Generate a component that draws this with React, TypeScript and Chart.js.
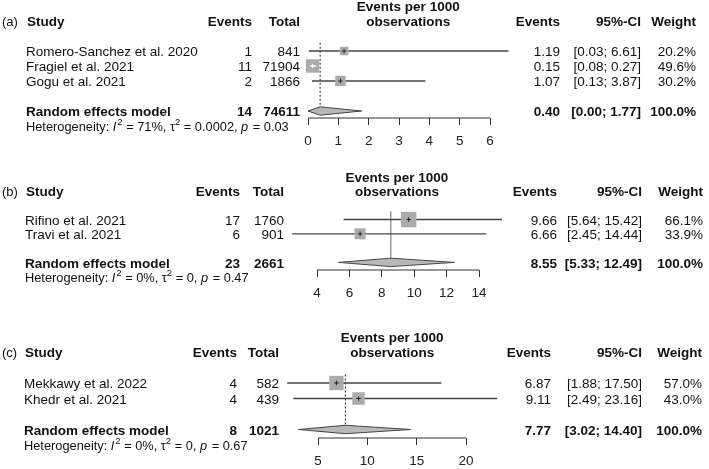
import React, { useEffect, useRef } from 'react';
import { Chart, registerables } from 'chart.js';

Chart.register(...registerables);

const FONT = '"Liberation Sans", Arial, Helvetica, sans-serif';

// ---------- Panel (a) ----------
const studiesA = ['Romero-Sanchez et al. 2020', 'Fragiel et al. 2021', 'Gogu et al. 2021'];
const eventsA = [1, 11, 2];
const totalsA = [841, 71904, 1866];
const ratesA = [1.19, 0.15, 1.07];
const lowersA = [0.03, 0.08, 0.13];
const uppersA = [6.61, 0.27, 3.87];
const weightsA = [20.2, 49.6, 30.2];
const pooledA = [14, 74611, 0.4, 0.0, 1.77];
const hetA = ['71%', '0.0002', '0.03'];
const ticksA = [0, 1, 2, 3, 4, 5, 6];

// ---------- Panel (b) ----------
const studiesB = ['Rifino et al. 2021', 'Travi et al. 2021'];
const eventsB = [17, 6];
const totalsB = [1760, 901];
const ratesB = [9.66, 6.66];
const lowersB = [5.64, 2.45];
const uppersB = [15.42, 14.44];
const weightsB = [66.1, 33.9];
const pooledB = [23, 2661, 8.55, 5.33, 12.49];
const hetB = ['0%', '0', '0.47'];
const ticksB = [4, 6, 8, 10, 12, 14];

// ---------- Panel (c) ----------
const studiesC = ['Mekkawy et al. 2022', 'Khedr et al. 2021'];
const eventsC = [4, 4];
const totalsC = [582, 439];
const ratesC = [6.87, 9.11];
const lowersC = [1.88, 2.49];
const uppersC = [17.5, 23.16];
const weightsC = [57.0, 43.0];
const pooledC = [8, 1021, 7.77, 3.02, 14.4];
const hetC = ['0%', '0', '0.67'];
const ticksC = [5, 10, 15, 20];

type Layout = {
  top: number; height: number; tick0Px: number; tickNPx: number;
  rowStart: number; rowGap: number; axisY: number; nameX: number;
  evRight: number; totRight: number; rEvRight: number; ciRight: number; wRight: number;
  refDash: number[]; refColor: string;
};

type Panel = {
  tag: string; studies: string[]; events: number[]; totals: number[]; rates: number[];
  lowers: number[]; uppers: number[]; weights: number[]; pooled: number[]; het: string[];
  ticks: number[]; layout: Layout;
};

const panels: Panel[] = [
  {
    tag: '(a)', studies: studiesA, events: eventsA, totals: totalsA, rates: ratesA, lowers: lowersA,
    uppers: uppersA, weights: weightsA, pooled: pooledA, het: hetA, ticks: ticksA,
    layout: { top: 0, height: 150, tick0Px: 308, tickNPx: 490, rowStart: 51, rowGap: 15, axisY: 118, nameX: 26,
      evRight: 252, totRight: 300, rEvRight: 560, ciRight: 641, wRight: 696, refDash: [2, 2], refColor: '#222' },
  },
  {
    tag: '(b)', studies: studiesB, events: eventsB, totals: totalsB, rates: ratesB, lowers: lowersB,
    uppers: uppersB, weights: weightsB, pooled: pooledB, het: hetB, ticks: ticksB,
    layout: { top: 150, height: 150, tick0Px: 317, tickNPx: 479, rowStart: 219.5, rowGap: 14.3, axisY: 270, nameX: 25,
      evRight: 240, totRight: 284, rEvRight: 557, ciRight: 642, wRight: 703, refDash: [], refColor: '#999' },
  },
  {
    tag: '(c)', studies: studiesC, events: eventsC, totals: totalsC, rates: ratesC, lowers: lowersC,
    uppers: uppersC, weights: weightsC, pooled: pooledC, het: hetC, ticks: ticksC,
    layout: { top: 300, height: 169, tick0Px: 318, tickNPx: 466, rowStart: 383, rowGap: 15.5, axisY: 438, nameX: 24,
      evRight: 237, totRight: 279, rEvRight: 551, ciRight: 642, wRight: 702, refDash: [2, 2], refColor: '#222' },
  },
];

const AXIS_H = 28;
const sideOf = (w: number) => 1.9 * Math.sqrt(w);

function makeConfig(p: Panel): any {
  const L = p.layout;
  const t0 = p.ticks[0];
  const tN = p.ticks[p.ticks.length - 1];
  const unit = (L.tickNPx - L.tick0Px) / (tN - t0);
  const xmin = Math.min(t0, ...p.lowers, p.pooled[3]);
  const xmax = Math.max(tN, ...p.uppers, p.pooled[4]);
  const leftPx = L.tick0Px - (t0 - xmin) * unit;
  const rightPx = L.tickNPx + (xmax - tN) * unit;
  const r0Px = L.rowStart - L.rowGap;
  const ymax = (L.axisY - r0Px) / L.rowGap;
  const n = p.studies.length;
  const rr = n + 2;
  const est = p.pooled[2];
  const dh = 4.2 / L.rowGap;

  const inside = p.rates.map((_, i) => (p.uppers[i] - p.lowers[i]) * unit < sideOf(p.weights[i]));

  const datasets: any[] = [];
  // axis line across tick range
  datasets.push({
    data: [{ x: t0, y: ymax }, { x: tN, y: ymax }],
    borderColor: '#333', borderWidth: 1, pointRadius: 0, order: 6, clip: false,
  });
  // pooled reference line
  datasets.push({
    data: [{ x: est, y: 0.45 }, { x: est, y: rr }],
    borderColor: L.refColor, borderDash: L.refDash, borderWidth: 1, pointRadius: 0, order: 5, clip: false,
  });
  // CI lines
  p.rates.forEach((_, i) => {
    datasets.push({
      data: [{ x: p.lowers[i], y: i + 1 }, { x: p.uppers[i], y: i + 1 }],
      borderColor: inside[i] ? '#ffffff' : '#444', borderWidth: 1.3, pointRadius: 0,
      order: inside[i] ? 2.5 : 4, clip: false,
    });
  });
  // squares
  datasets.push({
    data: p.rates.map((v, i) => ({ x: v, y: i + 1 })),
    showLine: false, pointStyle: 'rect',
    pointRadius: p.weights.map((w) => sideOf(w) / (2 * Math.SQRT1_2)),
    pointBackgroundColor: '#ababab', pointBorderWidth: 0, order: 3, clip: false,
  });
  // estimate marks
  datasets.push({
    data: p.rates.map((v, i) => ({ x: v, y: i + 1 })),
    showLine: false, pointStyle: 'cross', pointRadius: 2.3,
    pointBorderColor: inside.map((b) => (b ? '#ffffff' : '#222')), pointBorderWidth: 1, order: 2, clip: false,
  });
  // diamond
  datasets.push({
    data: [
      { x: p.pooled[3], y: rr }, { x: est, y: rr - dh }, { x: p.pooled[4], y: rr },
      { x: est, y: rr + dh }, { x: p.pooled[3], y: rr },
    ],
    fill: 'shape', backgroundColor: '#b8b8b8', borderColor: '#444', borderWidth: 1,
    pointRadius: 0, order: 1, clip: false,
  });

  const textPlugin = {
    id: 'forestText',
    afterDraw(chart: any) {
      const ctx = chart.ctx as CanvasRenderingContext2D;
      const ys = chart.scales.y;
      const ca = chart.chartArea;
      const Y = (r: number) => ys.getPixelForValue(r) + 1.5;
      ctx.save();
      ctx.fillStyle = '#111';
      ctx.textBaseline = 'middle';
      const txt = (s: string, x: number, r: number, align: CanvasTextAlign, bold = false, size = 13.5) => {
        ctx.font = `${bold ? 'bold ' : ''}${size}px ${FONT}`;
        ctx.textAlign = align;
        ctx.fillText(s, x, Y(r));
      };
      txt(p.tag, 2, -1, 'left', false, 13);
      txt('Study', L.nameX + 1, -1, 'left', true);
      txt('Events', L.evRight, -1, 'right', true);
      txt('Total', L.totRight, -1, 'right', true);
      const cx = (ca.left + ca.right) / 2;
      txt('Events per 1000', cx, -2, 'center', true);
      txt('observations', cx, -1, 'center', true);
      txt('Events', L.rEvRight, -1, 'right', true);
      txt('95%-CI', L.ciRight, -1, 'right', true);
      txt('Weight', L.wRight, -1, 'right', true);
      p.studies.forEach((s, i) => {
        const r = i + 1;
        txt(s, L.nameX, r, 'left');
        txt(String(p.events[i]), L.evRight, r, 'right');
        txt(String(p.totals[i]), L.totRight, r, 'right');
        txt(p.rates[i].toFixed(2), L.rEvRight, r, 'right');
        txt(`[${p.lowers[i].toFixed(2)}; ${p.uppers[i].toFixed(2)}]`, L.ciRight, r, 'right');
        txt(`${p.weights[i].toFixed(1)}%`, L.wRight, r, 'right');
      });
      txt('Random effects model', L.nameX, rr, 'left', true);
      txt(String(p.pooled[0]), L.evRight, rr, 'right', true);
      txt(String(p.pooled[1]), L.totRight, rr, 'right', true);
      txt(p.pooled[2].toFixed(2), L.rEvRight, rr, 'right', true);
      txt(`[${p.pooled[3].toFixed(2)}; ${p.pooled[4].toFixed(2)}]`, L.ciRight, rr, 'right', true);
      txt('100.0%', L.wRight, rr, 'right', true);

      // heterogeneity line (rich text)
      const segs: { t: string; it?: boolean; sup?: boolean }[] = [
        { t: 'Heterogeneity: ' }, { t: 'I', it: true }, { t: '2', sup: true },
        { t: ` = ${p.het[0]}, ` }, { t: 'τ' }, { t: '2', sup: true },
        { t: ` = ${p.het[1]}, ` }, { t: 'p', it: true }, { t: ` = ${p.het[2]}` },
      ];
      let x = L.nameX;
      const hy = Y(rr + 1);
      ctx.textAlign = 'left';
      for (const s of segs) {
        const size = s.sup ? 9.5 : 12.8;
        ctx.font = `${s.it ? 'italic ' : ''}${size}px ${FONT}`;
        ctx.fillText(s.t, x, s.sup ? hy - 5 : hy);
        x += ctx.measureText(s.t).width + (s.it ? 1 : 0);
      }
      ctx.restore();
    },
  };

  return {
    type: 'line',
    data: { datasets },
    options: {
      animation: false,
      responsive: false,
      devicePixelRatio: 1,
      events: [],
      layout: {
        padding: {
          left: leftPx,
          right: 709 - rightPx,
          top: r0Px - L.top,
          bottom: L.top + L.height - L.axisY - AXIS_H,
        },
      },
      elements: { point: { radius: 0 }, line: { tension: 0 } },
      plugins: { legend: { display: false }, tooltip: { enabled: false } },
      scales: {
        x: {
          type: 'linear', min: xmin, max: xmax, position: 'bottom',
          afterBuildTicks: (s: any) => { s.ticks = p.ticks.map((v) => ({ value: v })); },
          afterFit: (s: any) => { s.height = AXIS_H; },
          border: { display: false },
          grid: { drawOnChartArea: false, drawTicks: true, tickLength: 7, color: '#333', lineWidth: 1 },
          ticks: { color: '#222', font: { family: FONT, size: 13.5 }, padding: 8, autoSkip: false, maxRotation: 0 },
        },
        y: { type: 'linear', display: false, reverse: true, min: 0, max: ymax },
      },
    },
    plugins: [textPlugin],
  };
}

function ForestPanel({ p }: { p: Panel }) {
  const ref = useRef<HTMLCanvasElement>(null);
  useEffect(() => {
    const chart = new Chart(ref.current as HTMLCanvasElement, makeConfig(p));
    return () => chart.destroy();
  }, [p]);
  return (
    <canvas
      ref={ref}
      width={709}
      height={p.layout.height}
      style={{ position: 'absolute', left: 0, top: p.layout.top, width: 709, height: p.layout.height }}
    />
  );
}

export default function App() {
  return (
    <div style={{ position: 'absolute', left: 0, top: 0, width: 709, height: 469, background: '#fff' }}>
      {panels.map((p) => (
        <ForestPanel key={p.tag} p={p} />
      ))}
    </div>
  );
}
